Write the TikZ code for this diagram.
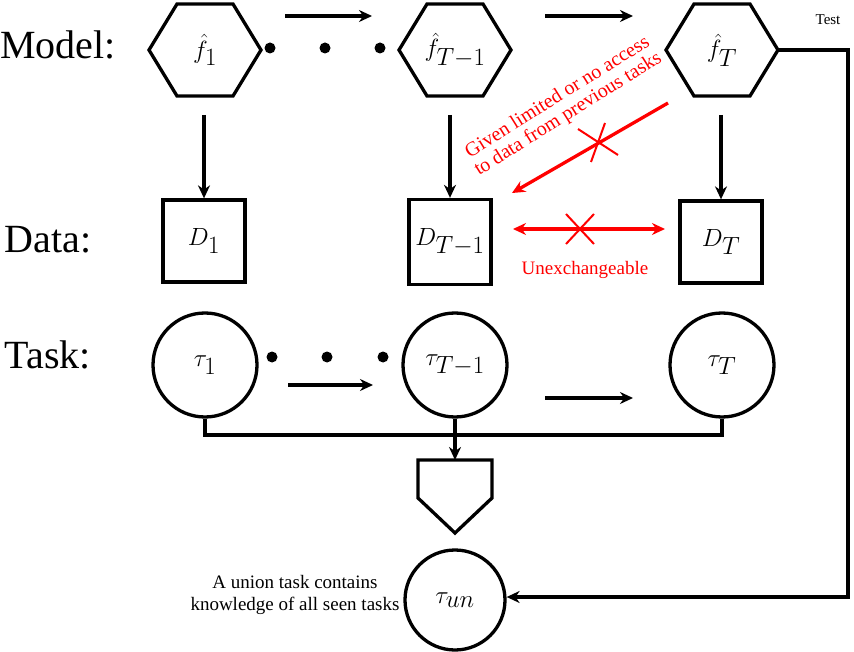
\documentclass[tikz,border=0pt]{standalone}
\usepackage{fontspec}
\setmainfont{Liberation Serif}
\usetikzlibrary{arrows.meta}
\begin{document}
\begin{tikzpicture}[x=1pt,y=-1pt,line width=3.3pt,
  arr/.style={-{Stealth[length=13pt,width=12pt]}},
  sq/.style={draw,minimum size=82pt,inner sep=0pt,font=\fontsize{34}{36}\selectfont},
  circ/.style={draw,circle,minimum size=104pt,inner sep=0pt,font=\fontsize{52}{54}\selectfont},
  lbl/.style={font=\fontsize{40}{42}\selectfont},
  red/.style={draw=red,color=red}]
\useasboundingbox (0,0) rectangle (854,652);
% hexagons
\foreach \n/\x/\t in {h1/205/{$\hat f_1$},h2/455/{$\hat f_{T-1}$},h3/722/{$\hat f_T$}}{
  \draw (\x-56,50) -- (\x-28,4) -- (\x+28,4) -- (\x+56,50) -- (\x+28,96) -- (\x-28,96) -- cycle;
  \node[font=\fontsize{34}{36}\selectfont] (\n) at (\x,50) {\t};
}
\coordinate (h3r) at (778,50);
\foreach \x in {270,325,380} \fill (\x,48) circle (5.5);
\foreach \x in {272,327,383} \fill (\x,357) circle (5.5);
\coordinate (a1) at (285,16); \coordinate (a2) at (372,16);
\coordinate (a3) at (545,16); \coordinate (a4) at (633,16);
\draw[arr] (a1) -- (a2); \draw[arr] (a3) -- (a4);
% data
\node[sq] (d1) at (204,241) {$D_1$};
\node[sq,minimum height=85pt] (d2) at (450,242) {$D_{T-1}$};
\node[sq] (d3) at (721,242) {$D_T$};
\draw[arr] (d1.north |- 0,115) -- (d1.north);
\draw[arr] (d2.north |- 0,115) -- (d2.north);
\draw[arr] (d3.north |- 0,115) -- (d3.north);
% red
\coordinate (r1) at (668,103); \coordinate (r2) at (512,193);
\draw[red,arr] (r1) -- (r2);
\draw[red,line width=2pt] (578,129) -- (618,155) (591,162) -- (605,123);
\node[text=red,rotate=32,align=center,font=\fontsize{20}{20}\selectfont] at (563,106) {Given limited or no access\\to data from previous tasks};
\coordinate (u1) at (513,229); \coordinate (u2) at (665,229);
\draw[red,{Stealth[length=13pt,width=12pt]}-{Stealth[length=13pt,width=12pt]}] (u1) -- (u2);
\draw[red,line width=2pt] (566,214) -- (594,244) (566,244) -- (594,214);
\node[text=red,font=\fontsize{19}{21}\selectfont] at (585,270) {Unexchangeable};
% tasks
\node[circ] (t1) at (205,365) {$\tau_1$};
\node[circ] (t2) at (455,365) {$\tau_{T-1}$};
\node[circ] (t3) at (722,365) {$\tau_T$};
\draw[arr] (288,385) -- (373,385);
\draw[arr] (545,398) -- (633,398);
\draw (t1.south) |- (t3.south |- 0,435) -- (t3.south);
\draw[arr] (t2.south) -- (455,460);
\draw (418,460) -- (492,460) -- (492,498) -- (455,533) -- (418,498) -- cycle;
\node[circ,minimum size=100pt] (tu) at (455,600) {$\tau_{un}$};
\draw[arr] (h3r) -- (848,50) -- (848,597) -- (tu.east |- 0,597);
\node[font=\fontsize{15}{17}\selectfont] at (828,20) {Test};
\node[align=center,font=\fontsize{19}{22}\selectfont] at (295,595) {A union task contains\\knowledge of all seen tasks};
\node[lbl] at (58,45) {Model:};
\node[lbl] at (48,240) {Data:};
\node[lbl] at (48,355) {Task:};
\end{tikzpicture}
\end{document}
